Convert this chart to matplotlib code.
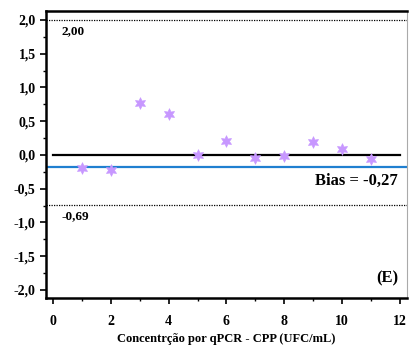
import numpy as np
import matplotlib.pyplot as plt
from matplotlib.ticker import MultipleLocator, FuncFormatter

# Bland-Altman style data
conc = [1, 2, 3, 4, 5, 6, 7, 8, 9, 10, 11]
diff = [-0.19, -0.23, 0.77, 0.61, 0.00, 0.20, -0.04, -0.01, 0.19, 0.09, -0.06]
bias = -0.18
upper_loa = 2.0
lower_loa = -0.735

plt.rcParams['font.family'] = ['Liberation Serif', 'DejaVu Serif']
plt.rcParams['font.weight'] = 'bold'

fig = plt.figure(figsize=(4.09, 3.49), dpi=100)
ax = fig.add_axes([0.1125, 0.146, 0.882, 0.822])

ax.plot([0, 12], [0, 0], color='black', lw=1.6, zorder=2)
ax.axhline(bias, color='#1f7fd0', lw=1.6, zorder=2)
ax.axhline(upper_loa, color='black', lw=0.9, ls=(0, (1, 1)), zorder=2)
ax.axhline(lower_loa, color='black', lw=0.9, ls=(0, (1, 1)), zorder=2)

ax.scatter(conc, diff, marker=(6, 1, 0), s=70, color='#c797ff', edgecolor='#c797ff',
           linewidth=0.5, zorder=3)

ax.text(0.3, 1.83, '2,00', fontsize=9.5, fontweight='bold', va='center')
ax.text(0.3, -0.9, '-0,69', fontsize=9.5, fontweight='bold', va='center')
ax.text(11.95, -0.38, 'Bias = -0,27', fontsize=12, fontweight='bold', ha='right', va='center')
ax.text(11.95, -1.83, '(E)', fontsize=12, fontweight='bold', ha='right', va='center')

ax.set_xlim(-0.25, 12.25)
ax.set_ylim(-2.12, 2.13)
ax.xaxis.set_major_locator(MultipleLocator(2))
ax.xaxis.set_minor_locator(MultipleLocator(1))
ax.yaxis.set_major_locator(MultipleLocator(0.5))
ax.yaxis.set_minor_locator(MultipleLocator(0.25))
ax.yaxis.set_major_formatter(FuncFormatter(lambda v, p: f'{v:.1f}'.replace('.', ',')))

ax.tick_params(which='major', direction='out', length=4, width=1.2, labelsize=10)
ax.tick_params(which='minor', direction='out', length=2.5, width=1)
ax.tick_params(axis='x', which='major', pad=8)
for lbl in ax.get_xticklabels() + ax.get_yticklabels():
    lbl.set_fontweight('bold')

for side in ['left', 'bottom', 'top']:
    ax.spines[side].set_linewidth(1.8)
ax.spines['right'].set_linewidth(0.8)
ax.spines['right'].set_color('#aaaaaa')

ax.set_xlabel('Concentrção por qPCR - CPP (UFC/mL)', fontsize=9, fontweight='bold', labelpad=4)

fig.savefig('out.png', dpi=100)
